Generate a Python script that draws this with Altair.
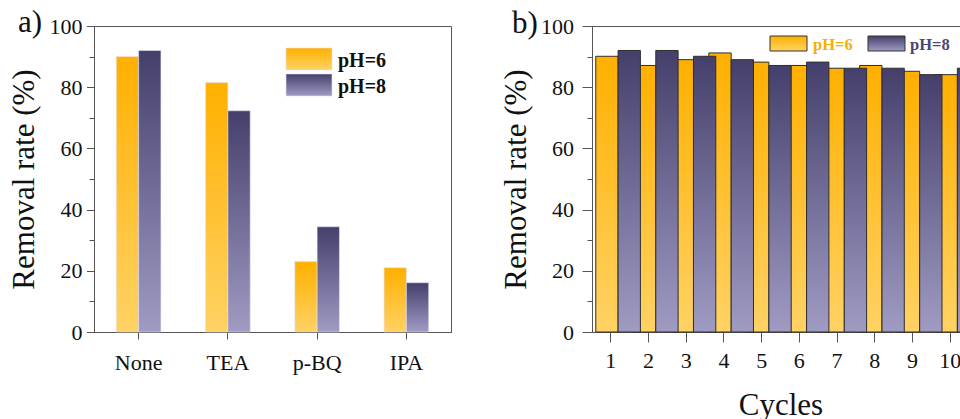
import altair as alt
import pandas as pd

# ---------------- data ----------------
series = ["pH=6", "pH=8"]

scavengers = ["None", "TEA", "p-BQ", "IPA"]
scav_ph6 = [90.0, 81.5, 23.0, 21.0]
scav_ph8 = [92.0, 72.3, 34.4, 16.1]

cycles = ["1", "2", "3", "4", "5", "6", "7", "8", "9", "10"]
cyc_ph6 = [90.1, 87.1, 89.0, 91.2, 88.2, 87.1, 86.2, 87.1, 85.2, 84.1]
cyc_ph8 = [92.0, 92.0, 90.1, 89.0, 87.1, 88.2, 86.2, 86.2, 84.1, 86.2]

y_ticks = list(range(0, 101, 10))

df_a = pd.DataFrame(
    [{"cat": c, "series": series[0], "value": v} for c, v in zip(scavengers, scav_ph6)]
    + [{"cat": c, "series": series[1], "value": v} for c, v in zip(scavengers, scav_ph8)]
)
df_b = pd.DataFrame(
    [{"cat": c, "series": series[0], "value": v} for c, v in zip(cycles, cyc_ph6)]
    + [{"cat": c, "series": series[1], "value": v} for c, v in zip(cycles, cyc_ph8)]
)

# ---------------- styles ----------------
FONT = "Liberation Serif"
AXIS_COLOR = "#555555"


def grad(top, bottom):
    return alt.LinearGradient(
        gradient="linear", x1=0, y1=0, x2=0, y2=1,
        stops=[alt.GradientStop(offset=0, color=top), alt.GradientStop(offset=1, color=bottom)],
    )


ORANGE = grad("#FFB000", "#FFD264")
PURPLE = grad("#45406B", "#A09BC3")
fills = {series[0]: ORANGE, series[1]: PURPLE}


def y_axis(tick_major, tick_minor, pad, title_x):
    return alt.Axis(
        values=y_ticks,
        labelExpr="datum.value % 20 === 0 ? datum.label : ''",
        tickSize={"condition": {"test": "datum.value % 20 === 0", "value": tick_major}, "value": tick_minor},
        tickColor=AXIS_COLOR, domainColor=AXIS_COLOR, tickWidth=1, domainWidth=1,
        labelFont=FONT, labelFontSize=22, labelColor="#111111", labelPadding=pad,
        grid=False,
        title="Removal rate (%)", titleFont=FONT, titleFontSize=31, titleFontWeight="normal",
        titleColor="#111111", titleAngle=270, titleAlign="center", titleBaseline="alphabetic",
        titleX=title_x, titleY=153,
    )


def panel(df, cats, pad_inner, pad_outer, x_axis, y_ax, stroke):
    layers = []
    for s in series:
        kw = {"fill": fills[s]}
        if stroke:
            kw.update(stroke="#2E2E2E", strokeWidth=1)
        else:
            kw.update(stroke="#E4E1F0", strokeWidth=0.6)
        layers.append(
            alt.Chart(df)
            .transform_filter(alt.datum.series == s)
            .mark_bar(**kw)
            .encode(
                x=alt.X("cat:N", sort=cats, axis=x_axis,
                        scale=alt.Scale(domain=cats, paddingInner=pad_inner, paddingOuter=pad_outer)),
                xOffset=alt.XOffset("series:N", scale=alt.Scale(domain=series, paddingInner=0, paddingOuter=0)),
                y=alt.Y("value:Q", axis=y_ax, scale=alt.Scale(domain=[0, 100], nice=False)),
            )
        )
    return layers


# ---------------- panel a ----------------
x_axis_a = alt.Axis(
    title=None, labelAngle=0, labelFont=FONT, labelFontSize=22, labelColor="#111111",
    labelPadding=13.5, tickSize=7, tickColor=AXIS_COLOR, domainColor=AXIS_COLOR, tickWidth=1,
)
layers_a = panel(df_a, scavengers, 0.5, 0.25, x_axis_a, y_axis(7.5, 5, 4.5, -61), False)

leg_a = []
for i, s in enumerate(series):
    d = pd.DataFrame({"series": [s]})
    top = 22 + i * 26
    leg_a.append(
        alt.Chart(d).mark_rect(fill=fills[s], stroke="#E4E1F0", strokeWidth=0.6).encode(
            x=alt.value(192), x2=alt.value(238), y=alt.value(top), y2=alt.value(top + 22)
        )
    )
    leg_a.append(
        alt.Chart(d).mark_text(font=FONT, fontSize=20, fontWeight="bold", color="#111111",
                               align="left", baseline="alphabetic").encode(
            text="series:N", x=alt.value(244), y=alt.value(top + 19)
        )
    )
lab_a = alt.Chart(pd.DataFrame({"t": ["a)"]})).mark_text(
    font=FONT, fontSize=31, color="#111111", align="left", baseline="alphabetic"
).encode(text="t:N", x=alt.value(-76), y=alt.value(6))

chart_a = alt.layer(*layers_a, *leg_a, lab_a).properties(width=357, height=306)

# ---------------- panel b ----------------
x_axis_b = alt.Axis(
    title="Cycles", titleFont=FONT, titleFontSize=31, titleFontWeight="normal", titleColor="#111111",
    titleBaseline="alphabetic", titleY=82,
    labelAngle=0, labelFont=FONT, labelFontSize=22, labelColor="#111111",
    labelPadding=8.5, tickSize=10, tickColor=AXIS_COLOR, domainColor=AXIS_COLOR, tickWidth=1,
)
layers_b = panel(df_b, cycles, 0.2, 0.1, x_axis_b, y_axis(10, 5, 8.5, -67), True)

leg_b = []
leg_pos = [(178, 221), (276, 318)]
text_colors = {series[0]: "#F7AE06", series[1]: "#4A4676"}
for (sx, tx), s in zip(leg_pos, series):
    d = pd.DataFrame({"series": [s]})
    leg_b.append(
        alt.Chart(d).mark_rect(fill=fills[s], stroke="#333333", strokeWidth=1).encode(
            x=alt.value(sx), x2=alt.value(sx + 37), y=alt.value(10), y2=alt.value(25)
        )
    )
    leg_b.append(
        alt.Chart(d).mark_text(font=FONT, fontSize=16.5, fontWeight="bold", color=text_colors[s],
                               align="left", baseline="alphabetic").encode(
            text="series:N", x=alt.value(tx), y=alt.value(24)
        )
    )
lab_b = alt.Chart(pd.DataFrame({"t": ["b)"]})).mark_text(
    font=FONT, fontSize=31, color="#111111", align="left", baseline="alphabetic"
).encode(text="t:N", x=alt.value(-80), y=alt.value(7))

chart_b = alt.layer(*layers_b, *leg_b, lab_b).properties(width=377, height=306)

chart = (
    alt.hconcat(chart_a, chart_b, spacing=141, bounds="flush")
    .properties(
        autosize=alt.AutoSizeParams(type="none"),
        padding={"left": 94, "top": 26, "right": 866, "bottom": 393},
        background="white",
    )
    .configure_view(stroke=AXIS_COLOR, strokeWidth=1)
)

chart.save("out.html", embed_options={"renderer": "svg", "actions": False})
